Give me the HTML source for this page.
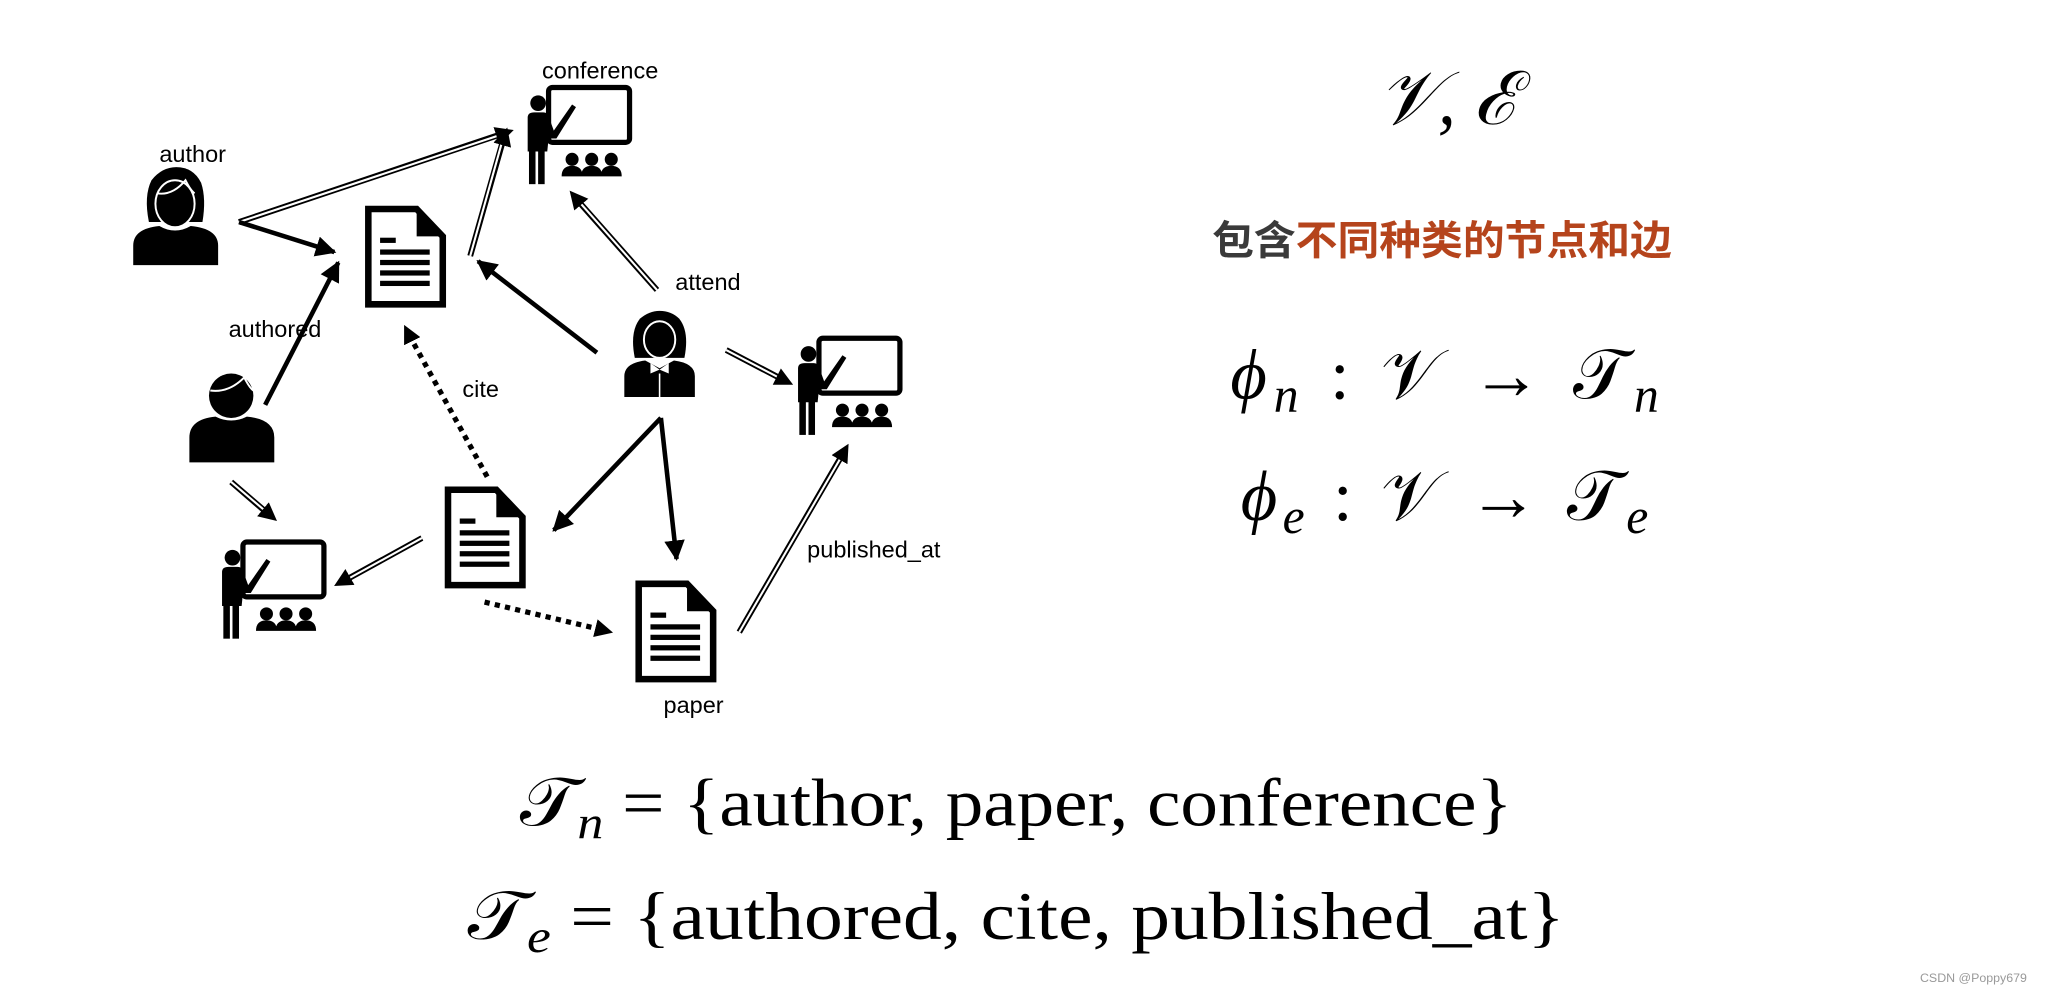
<!DOCTYPE html>
<html><head><meta charset="utf-8"><style>
html,body{margin:0;padding:0;background:#fff;}
svg{display:block;}
.lab{font-family:"Liberation Sans",sans-serif;font-size:18px;fill:#000;}
.m{font-family:"Liberation Serif",serif;fill:#000;}
</style></head><body>
<svg width="2048" height="996" viewBox="0 0 1568 762.6" preserveAspectRatio="none" xmlns="http://www.w3.org/2000/svg">
<defs>
<marker id="ah" viewBox="0 0 10 10" refX="9" refY="5" markerWidth="4.5" markerHeight="4.5" markerUnits="strokeWidth" orient="auto"><path d="M0,0 L10,5 L0,10 Z" fill="#000"/></marker>
<marker id="ah2" viewBox="0 0 10 10" refX="9" refY="5" markerWidth="14" markerHeight="14" markerUnits="userSpaceOnUse" orient="auto"><path d="M0,0 L10,5 L0,10 Z" fill="#000"/></marker>
<g id="doc">
<path d="M3,3 H40 L60,24 V76 H3 Z" fill="#fff" stroke="#000" stroke-width="5" stroke-linejoin="miter"/>
<path d="M40,3 V24 H60 Z" fill="#000"/>
<rect x="12" y="25" width="12" height="4"/>
<rect x="12" y="34" width="38" height="4"/>
<rect x="12" y="42" width="38" height="4"/>
<rect x="12" y="50" width="38" height="4"/>
<rect x="12" y="58" width="38" height="4"/>
</g>
<g id="pres">
<rect x="20" y="3" width="62" height="42" rx="3" fill="none" stroke="#000" stroke-width="4"/>
<circle cx="12" cy="15" r="6"/>
<path d="M4,26 Q4,22 9,22 H16 Q19,22 20,25 L24,36 L38,16 L41,18 L26,42 L20,42 L19,52 L4,52 Z"/>
<rect x="5" y="50" width="5" height="27"/><rect x="12" y="50" width="5" height="27"/>
<circle cx="38" cy="58" r="5"/><circle cx="53" cy="58" r="5"/><circle cx="68" cy="58" r="5"/>
<path d="M30,71 Q30,63 38,63 Q46,63 46,71 Z M45,71 Q45,63 53,63 Q61,63 61,71 Z M60,71 Q60,63 68,63 Q76,63 76,71 Z"/>
</g>
<g id="fem">
<path d="M12,42 Q8,22 14,10 Q22,0 33,0 Q46,0 52,12 Q56,24 53,42 Z"/>
<ellipse cx="32" cy="28" rx="15" ry="18" fill="#000" stroke="#fff" stroke-width="1.5"/>
<path d="M18,20 Q30,22 40,10 Q44,18 47,20" fill="none" stroke="#fff" stroke-width="1.5"/>
<path d="M0,75 V60 Q0,47 20,45 Q32,52 44,45 Q65,47 65,60 V75 Z"/>
</g>
<g id="male">
<circle cx="32" cy="20" r="17"/>
<path d="M16,16 Q30,18 42,6 Q46,14 49,16" fill="none" stroke="#fff" stroke-width="1.5"/>
<path d="M0,71 V52 Q0,38 20,36 Q32,42 44,36 Q65,38 65,52 V71 Z"/>
</g>
<g id="fem2">
<path d="M8,36 Q4,16 12,6 Q19,0 27,0 Q36,0 42,6 Q50,16 46,36 Z"/>
<ellipse cx="27" cy="22" rx="12" ry="14" fill="#000" stroke="#fff" stroke-width="1.5"/>
<path d="M0,66 V50 Q0,40 16,38 L27,44 L38,38 Q54,40 54,50 V66 Z"/>
<path d="M20,40 L27,45 L34,40 L34,48 L27,45 L20,48 Z" fill="#fff"/>
<line x1="27" y1="48" x2="27" y2="66" stroke="#fff" stroke-width="1.2"/>
</g>
</defs>

<g fill="none" stroke="#000">
<g stroke-width="4.5">
<line x1="183" y1="170" x2="386" y2="102"/>
<line x1="360" y1="196" x2="385" y2="108"/>
<line x1="503" y1="222" x2="441" y2="152"/>
<line x1="556" y1="268" x2="600" y2="291"/>
<line x1="323" y1="412" x2="263" y2="445"/>
<line x1="177" y1="369" x2="206" y2="394"/>
<line x1="566" y1="484" x2="645" y2="348"/>
</g>
<g stroke="#fff" stroke-width="1.6">
<line x1="183" y1="170" x2="384" y2="103"/>
<line x1="360" y1="196" x2="384" y2="110"/>
<line x1="503" y1="222" x2="443" y2="154"/>
<line x1="556" y1="268" x2="598" y2="290"/>
<line x1="323" y1="412" x2="265" y2="444"/>
<line x1="177" y1="369" x2="204" y2="392"/>
<line x1="566" y1="484" x2="644" y2="350"/>
</g>
<g stroke-width="0.1">
<line x1="380" y1="104" x2="392" y2="100" marker-end="url(#ah2)"/>
<line x1="386" y1="106" x2="388" y2="99" marker-end="url(#ah2)"/>
<line x1="442" y1="153" x2="437" y2="147" marker-end="url(#ah2)"/>
<line x1="598" y1="290" x2="606" y2="294" marker-end="url(#ah2)"/>
<line x1="264" y1="444" x2="257" y2="448" marker-end="url(#ah2)"/>
<line x1="205" y1="393" x2="211" y2="398" marker-end="url(#ah2)"/>
<line x1="645" y1="348" x2="649" y2="341" marker-end="url(#ah2)"/>
</g>
<g stroke-width="3.5">
<line x1="183" y1="170" x2="256" y2="193" marker-end="url(#ah)"/>
<line x1="203" y1="310" x2="259" y2="201" marker-end="url(#ah)"/>
<line x1="457" y1="270" x2="366" y2="200" marker-end="url(#ah)"/>
<line x1="506" y1="320" x2="424" y2="406" marker-end="url(#ah)"/>
<line x1="506" y1="320" x2="518" y2="428" marker-end="url(#ah)"/>
</g>
<g stroke-width="4" stroke-dasharray="4 4">
<line x1="373" y1="365" x2="314" y2="258"/>
<line x1="371" y1="461" x2="460" y2="482"/>
</g>
<g stroke-width="0.1">
<line x1="314" y1="258" x2="310" y2="250" marker-end="url(#ah2)"/>
<line x1="460" y1="482" x2="468" y2="484" marker-end="url(#ah2)"/>
</g>
</g>

<use href="#pres" x="400" y="64"/>
<use href="#pres" x="607" y="256"/>
<use href="#pres" x="166" y="412"/>
<use href="#doc" x="279" y="157"/>
<use href="#doc" x="340" y="372"/>
<use href="#doc" x="486" y="444"/>
<use href="#fem" x="102" y="128"/>
<use href="#male" x="145" y="283"/>
<use href="#fem2" x="478" y="238"/>

<text class="lab" x="415" y="60">conference</text>
<text class="lab" x="122" y="124">author</text>
<text class="lab" x="175" y="258">authored</text>
<text class="lab" x="517" y="222">attend</text>
<text class="lab" x="354" y="304">cite</text>
<text class="lab" x="618" y="427">published_at</text>
<text class="lab" x="508" y="546">paper</text>

<text class="m" x="1055" y="95" font-size="58" font-style="italic" textLength="105" lengthAdjust="spacingAndGlyphs">𝒱, ℰ</text>
<text x="928" y="195" font-family="'Liberation Sans','Noto Sans CJK SC',sans-serif" font-size="31" font-weight="bold" textLength="352" lengthAdjust="spacingAndGlyphs"><tspan fill="#3a3a3a">包含</tspan><tspan fill="#b5441c">不同种类的节点和边</tspan></text>
<text class="m" x="942" y="305" font-size="54" textLength="328" lengthAdjust="spacing"><tspan font-style="italic">ϕ</tspan><tspan font-style="italic" font-size="38" dy="10">n</tspan><tspan dy="-10"> : </tspan><tspan>𝒱 → 𝒯</tspan><tspan font-style="italic" font-size="38" dy="10">n</tspan></text>
<text class="m" x="950" y="398" font-size="54" textLength="312" lengthAdjust="spacing"><tspan font-style="italic">ϕ</tspan><tspan font-style="italic" font-size="38" dy="10">e</tspan><tspan dy="-10"> : </tspan><tspan>𝒱 → 𝒯</tspan><tspan font-style="italic" font-size="38" dy="10">e</tspan></text>

<text class="m" x="398" y="632" font-size="52" textLength="760" lengthAdjust="spacingAndGlyphs">𝒯<tspan font-style="italic" font-size="36" dy="10">n</tspan><tspan dy="-10"> = {author, paper, conference}</tspan></text>
<text class="m" x="358" y="719" font-size="52" textLength="840" lengthAdjust="spacingAndGlyphs">𝒯<tspan font-style="italic" font-size="36" dy="10">e</tspan><tspan dy="-10"> = {authored, cite, published_at}</tspan></text>

<text x="1470" y="752" font-family="'Liberation Sans',sans-serif" font-size="9.5" fill="#999">CSDN @Poppy679</text>
</svg>
</body></html>
